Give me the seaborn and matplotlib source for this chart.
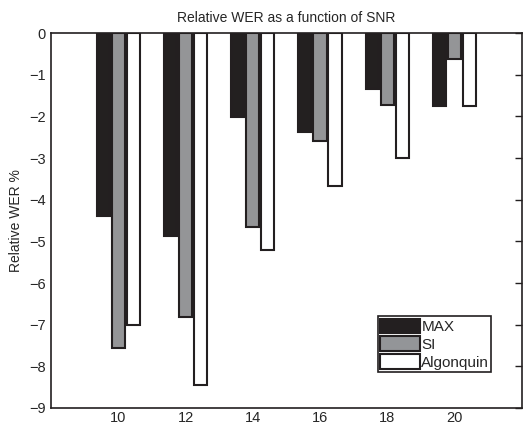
import numpy as np
import pandas as pd
import matplotlib
matplotlib.use('Agg')
import matplotlib.pyplot as plt
import seaborn as sns

snr = [10, 12, 14, 16, 18, 20]
wer_max = [-4.38, -4.87, -2.02, -2.38, -1.35, -1.75]
wer_si = [-7.55, -6.82, -4.65, -2.60, -1.72, -0.63]
wer_alg = [-7.00, -8.45, -5.20, -3.67, -3.00, -1.75]
methods = ['MAX', 'SI', 'Algonquin']
colors = ['#231f20', '#939598', '#ffffff']

df = pd.DataFrame({
    'SNR': snr * 3,
    'WER': wer_max + wer_si + wer_alg,
    'Method': [m for m in methods for _ in snr],
})

sns.set_style('white')
plt.rcParams['font.family'] = ['Liberation Sans', 'DejaVu Sans']

fig, ax = plt.subplots(figsize=(5.27, 4.25), dpi=100)
fig.subplots_adjust(left=0.097, right=0.99, top=0.922, bottom=0.04)

sns.barplot(data=df, x='SNR', y='WER', hue='Method', hue_order=methods,
            palette=colors, native_scale=True, width=0.67, gap=0.12,
            edgecolor='#231f20', linewidth=1.5, ax=ax, legend=False)

ax.set_xlim(8, 22)
ax.set_ylim(-9, 0)
ax.set_xticks(snr)
ax.set_yticks(np.arange(-9, 1, 1))
ax.set_yticklabels([f'\u2212{abs(v)}' if v < 0 else str(v) for v in range(-9, 1)])
ax.tick_params(direction='in', length=5, width=1, top=True, right=True,
               labelsize=10.5, color='#231f20')
ax.tick_params(axis='x', pad=2)
ax.tick_params(axis='y', pad=4)
for s in ax.spines.values():
    s.set_linewidth(1.2)
    s.set_color('#231f20')

ax.set_xlabel('')
ax.set_ylabel('Relative WER %', fontsize=10)
ax.set_title('Relative WER as a function of SNR', fontsize=10, pad=8)

handles = [plt.Rectangle((0, 0), 1, 1, facecolor=c, edgecolor='#231f20', linewidth=1.5)
           for c in colors]
leg = ax.legend(handles, methods, loc='lower left', bbox_to_anchor=(0.694, 0.096),
                fontsize=11, handlelength=2.6, handleheight=1.1, handletextpad=0.1,
                labelspacing=0.15, borderpad=0.15, borderaxespad=0,
                fancybox=False, framealpha=1, edgecolor='#231f20')
leg.get_frame().set_linewidth(1.2)

plt.savefig('out.png', dpi=100)
